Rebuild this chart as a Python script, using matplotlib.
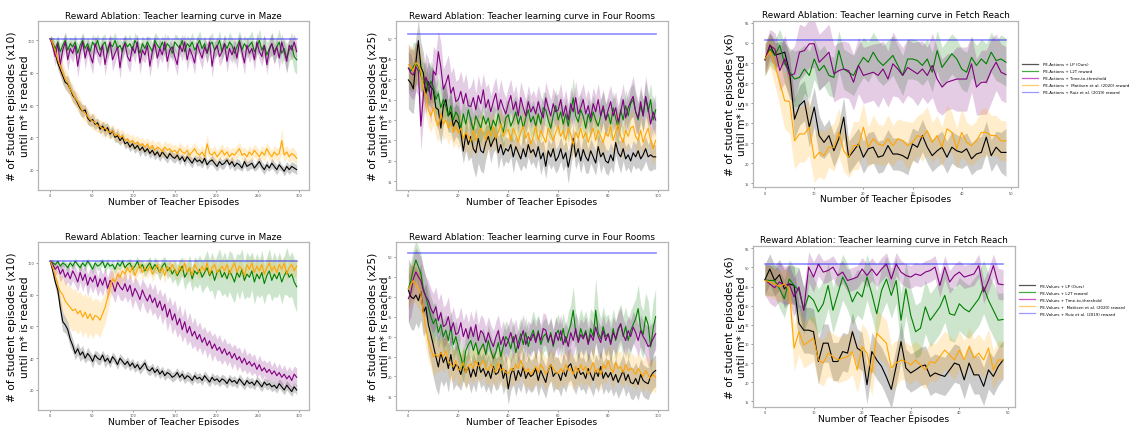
import numpy as np
import matplotlib
matplotlib.use("Agg")
import matplotlib.pyplot as plt
from matplotlib.lines import Line2D

# ---- x axes (teacher episodes) ----
maze_ep = np.arange(0, 300, 3)
rooms_ep = np.arange(0, 100)
fetch_ep = np.arange(0, 50)

# ---- Ruiz et al. reward: flat line ----
ruiz_maze = 101
ruiz_rooms = 51
ruiz_fetch = 50.8

# ================= MAZE, PE-Actions (top) =================
maze_a_lp = [101, 97, 92, 86, 82, 78, 74, 73, 70, 66, 64, 61, 58, 56, 57, 52, 50, 51, 48, 49,
             45, 47, 44, 46, 42, 44, 40, 41, 38, 40, 36, 37, 34, 36, 33, 35, 32, 34, 31, 33,
             30, 32, 29, 31, 28, 31, 29, 27, 30, 28, 27, 29, 26, 28, 25, 28, 26, 24, 27, 25,
             26, 24, 27, 23, 25, 26, 24, 22, 25, 23, 24, 26, 23, 25, 22, 24, 23, 21, 25, 22,
             23, 24, 21, 23, 25, 22, 20, 23, 21, 24, 22, 20, 23, 21, 19, 22, 20, 22, 21, 20]
maze_a_lp_sd = [1, 2, 3, 4, 4, 5, 4, 5, 4, 4, 4, 3, 4, 4, 3, 4, 3, 4, 3, 3,
                3, 3, 4, 3, 3, 3, 3, 4, 3, 3, 3, 3, 3, 3, 3, 3, 4, 3, 3, 3,
                3, 3, 3, 3, 3, 3, 3, 3, 3, 3, 3, 3, 3, 2, 3, 3, 3, 3, 2, 3,
                3, 3, 3, 3, 2, 3, 3, 3, 3, 3, 3, 2, 3, 3, 3, 3, 3, 2, 3, 3,
                3, 3, 2, 3, 3, 3, 3, 3, 2, 3, 3, 3, 3, 2, 3, 3, 3, 3, 3, 3]
maze_a_l2t = [101, 98, 95, 99, 93, 97, 100, 94, 98, 96, 99, 92, 97, 100, 95, 98, 93, 99, 96, 100,
              94, 97, 99, 92, 98, 96, 100, 95, 97, 93, 99, 96, 98, 94, 100, 97, 92, 98, 95, 99,
              96, 93, 100, 97, 95, 99, 94, 98, 96, 92, 99, 97, 95, 100, 93, 98, 96, 99, 94, 97,
              100, 95, 98, 92, 97, 99, 94, 96, 100, 93, 98, 95, 99, 97, 92, 96, 100, 94, 98, 95,
              97, 99, 93, 96, 100, 94, 97, 91, 95, 98, 93, 96, 99, 92, 95, 89, 94, 97, 90, 88]
maze_a_l2t_sd = [2, 4, 5, 4, 5, 4, 5, 6, 4, 5, 5, 6, 4, 5, 5, 4, 6, 5, 5, 4,
                 5, 6, 5, 4, 5, 6, 5, 5, 4, 6, 5, 5, 6, 4, 5, 5, 6, 5, 5, 4,
                 6, 5, 5, 6, 5, 4, 5, 6, 5, 5, 5, 6, 5, 4, 6, 5, 5, 6, 5, 5,
                 6, 5, 5, 6, 5, 6, 5, 5, 6, 5, 6, 5, 6, 5, 7, 5, 6, 6, 5, 6,
                 6, 7, 6, 5, 7, 6, 6, 8, 6, 7, 7, 6, 8, 7, 6, 9, 7, 8, 9, 9]
maze_a_ttt = [101, 96, 90, 98, 85, 94, 99, 88, 95, 92, 97, 84, 93, 99, 89, 96, 91, 86, 98, 93,
              90, 97, 85, 94, 99, 88, 92, 96, 83, 95, 98, 90, 87, 96, 92, 99, 86, 94, 91, 97,
              84, 93, 98, 89, 95, 91, 99, 87, 94, 96, 90, 85, 97, 93, 99, 88, 95, 91, 86, 98,
              93, 89, 96, 92, 99, 84, 94, 97, 90, 93, 98, 87, 95, 91, 96, 89, 99, 93, 86, 97,
              92, 95, 88, 99, 93, 90, 97, 85, 94, 98, 91, 96, 89, 99, 93, 87, 97, 94, 99, 93]
maze_a_ttt_sd = [2, 5, 6, 5, 7, 5, 6, 7, 5, 6, 5, 7, 6, 5, 7, 5, 6, 7, 5, 6,
                 6, 5, 7, 6, 5, 7, 6, 5, 7, 6, 5, 6, 7, 5, 6, 5, 7, 6, 5, 6,
                 7, 6, 5, 7, 6, 5, 6, 7, 5, 6, 6, 7, 5, 6, 5, 7, 6, 5, 7, 5,
                 6, 7, 5, 6, 5, 7, 6, 5, 6, 6, 5, 7, 6, 5, 6, 7, 5, 6, 7, 5,
                 6, 5, 7, 6, 5, 6, 7, 6, 5, 7, 6, 5, 7, 5, 6, 7, 5, 6, 5, 6]
maze_a_mat = [101, 98, 93, 88, 84, 80, 76, 74, 70, 67, 64, 62, 59, 56, 55, 53, 51, 50, 49, 47,
              47, 45, 46, 44, 43, 44, 41, 42, 40, 41, 38, 39, 37, 38, 36, 37, 35, 36, 34, 36,
              33, 35, 32, 34, 33, 31, 34, 32, 33, 31, 32, 30, 33, 31, 30, 32, 29, 31, 33, 30,
              29, 31, 28, 36, 30, 29, 31, 28, 30, 32, 29, 31, 28, 30, 29, 31, 33, 29, 30, 28,
              31, 29, 32, 30, 28, 31, 29, 33, 30, 28, 31, 29, 30, 38, 29, 31, 28, 30, 29, 27]
maze_a_mat_sd = [1, 3, 4, 5, 6, 6, 6, 6, 5, 6, 5, 6, 5, 5, 5, 5, 4, 5, 5, 4,
                 4, 5, 4, 4, 4, 4, 4, 4, 4, 4, 4, 4, 4, 4, 4, 4, 4, 4, 4, 4,
                 4, 4, 4, 4, 4, 4, 4, 4, 4, 4, 4, 4, 4, 4, 4, 4, 4, 4, 4, 4,
                 4, 4, 4, 6, 4, 4, 4, 4, 4, 4, 4, 4, 4, 4, 4, 4, 4, 4, 4, 4,
                 4, 4, 4, 4, 4, 4, 4, 4, 4, 4, 4, 4, 4, 8, 4, 4, 4, 4, 4, 4]

# ================= MAZE, PE-Values (bottom) =================
maze_v_lp = [101, 95, 88, 83, 72, 63, 61, 58, 52, 48, 43, 46, 42, 44, 40, 43, 41, 38, 42, 40,
             39, 42, 38, 40, 37, 41, 39, 36, 40, 38, 36, 38, 35, 37, 34, 36, 33, 35, 37, 33,
             32, 34, 31, 33, 30, 32, 29, 31, 30, 28, 29, 31, 28, 30, 27, 29, 28, 26, 29, 27,
             28, 26, 29, 27, 25, 28, 26, 27, 25, 27, 26, 24, 27, 25, 26, 24, 27, 25, 23, 26,
             24, 25, 23, 26, 24, 22, 25, 23, 24, 22, 23, 21, 24, 22, 20, 23, 21, 19, 22, 20]
maze_v_lp_sd = [1, 3, 4, 5, 6, 6, 5, 5, 5, 4, 4, 4, 4, 4, 3, 4, 3, 4, 3, 4,
                3, 3, 4, 3, 3, 3, 3, 3, 3, 3, 3, 3, 3, 3, 3, 3, 3, 3, 3, 3,
                3, 3, 3, 3, 3, 3, 3, 3, 3, 3, 3, 3, 3, 3, 3, 3, 3, 3, 3, 3,
                3, 3, 3, 3, 3, 3, 3, 3, 3, 3, 3, 3, 3, 3, 3, 3, 3, 3, 3, 3,
                3, 3, 3, 3, 3, 3, 3, 3, 3, 3, 3, 3, 3, 3, 3, 3, 3, 3, 3, 3]
maze_v_l2t = [101, 100, 99, 101, 98, 100, 99, 97, 100, 98, 101, 99, 97, 100, 98, 101, 99, 96, 100, 98,
              99, 101, 97, 100, 98, 99, 96, 100, 98, 101, 97, 99, 100, 96, 98, 101, 97, 99, 95, 98,
              100, 96, 99, 97, 94, 98, 100, 95, 97, 93, 96, 92, 95, 98, 91, 94, 97, 90, 95, 93,
              96, 91, 94, 97, 92, 95, 89, 94, 96, 91, 94, 90, 95, 92, 88, 94, 91, 96, 89, 93,
              91, 95, 88, 93, 90, 94, 87, 92, 95, 89, 93, 90, 94, 88, 92, 95, 91, 93, 88, 85]
maze_v_l2t_sd = [1, 1, 2, 1, 2, 2, 2, 3, 2, 2, 2, 2, 3, 2, 3, 2, 2, 3, 2, 3,
                 3, 2, 3, 3, 2, 3, 3, 3, 3, 2, 3, 3, 3, 4, 3, 3, 4, 3, 4, 4,
                 4, 4, 5, 4, 5, 5, 4, 5, 5, 6, 6, 7, 7, 6, 8, 7, 8, 8, 9, 9,
                 9, 10, 10, 11, 10, 12, 12, 11, 13, 12, 13, 12, 13, 14, 13, 12, 14, 13, 12, 14,
                 13, 12, 14, 13, 12, 14, 13, 12, 14, 13, 14, 12, 13, 14, 12, 15, 13, 14, 15, 16]
maze_v_ttt = [101, 99, 96, 98, 93, 96, 91, 94, 90, 95, 92, 88, 94, 89, 93, 86, 91, 88, 92, 85,
              90, 86, 91, 84, 89, 87, 82, 88, 85, 83, 87, 82, 86, 79, 84, 81, 77, 83, 79, 76,
              80, 75, 78, 72, 76, 70, 74, 66, 71, 64, 68, 61, 65, 58, 63, 56, 60, 54, 57, 52,
              55, 50, 53, 48, 51, 46, 49, 45, 47, 43, 46, 42, 44, 40, 43, 39, 41, 37, 40, 36,
              38, 35, 37, 33, 36, 32, 34, 31, 33, 30, 32, 29, 31, 28, 30, 27, 29, 26, 30, 28]
maze_v_ttt_sd = [1, 3, 4, 4, 5, 5, 5, 6, 5, 6, 6, 6, 6, 7, 6, 7, 6, 7, 7, 6,
                 7, 7, 6, 7, 7, 8, 7, 7, 8, 7, 8, 7, 8, 8, 7, 8, 8, 7, 8, 8,
                 8, 8, 9, 8, 8, 9, 8, 9, 8, 9, 9, 8, 9, 8, 9, 8, 9, 8, 9, 8,
                 8, 8, 7, 8, 7, 8, 7, 7, 8, 7, 7, 7, 6, 7, 6, 7, 6, 6, 7, 6,
                 6, 6, 6, 5, 6, 6, 5, 6, 6, 5, 6, 5, 6, 5, 6, 5, 6, 6, 5, 6]
maze_v_mat = [101, 97, 92, 86, 82, 80, 76, 74, 72, 70, 71, 68, 70, 66, 69, 65, 68, 64, 67, 66,
              64, 68, 72, 78, 85, 90, 88, 93, 91, 95, 93, 97, 94, 98, 92, 96, 99, 94, 97, 95,
              98, 93, 96, 99, 94, 97, 92, 98, 95, 99, 96, 93, 98, 95, 100, 94, 97, 92, 99, 96,
              94, 98, 95, 100, 93, 97, 99, 94, 96, 98, 95, 99, 93, 97, 100, 94, 98, 96, 92, 99,
              96, 100, 94, 98, 95, 99, 93, 97, 100, 95, 98, 94, 99, 96, 100, 93, 97, 99, 95, 98]
maze_v_mat_sd = [1, 4, 6, 8, 10, 11, 12, 12, 13, 13, 13, 13, 12, 13, 12, 13, 12, 12, 11, 11,
                 11, 10, 10, 9, 8, 7, 6, 6, 5, 5, 5, 4, 5, 4, 5, 4, 4, 5, 4, 5,
                 4, 5, 4, 4, 5, 4, 5, 4, 5, 4, 5, 4, 5, 4, 4, 5, 4, 5, 4, 5,
                 4, 5, 4, 4, 5, 4, 5, 4, 5, 4, 5, 4, 5, 4, 4, 5, 4, 5, 4, 5,
                 4, 5, 4, 5, 4, 5, 4, 5, 4, 5, 5, 4, 5, 4, 5, 4, 5, 4, 5, 5]

# ================= FOUR ROOMS, PE-Actions (top) =================
rooms_a_lp = [39.8, 39.0, 37.6, 44.0, 49.4, 43.0, 41.5, 36.5, 39.4, 38.0,
              37.4, 33.0, 32.5, 28.0, 33.5, 35.0, 31.0, 32.0, 28.5, 30.0,
              29.3, 27.0, 22.4, 26.5, 24.0, 26.0, 23.0, 22.0, 25.5, 22.5,
              22.0, 24.5, 26.0, 23.5, 25.0, 26.0, 22.0, 24.0, 21.5, 23.0,
              22.4, 24.0, 21.0, 23.5, 22.0, 20.5, 23.0, 21.0, 24.0, 22.0,
              22.8, 21.0, 23.5, 20.5, 22.0, 18.7, 22.5, 21.0, 23.0, 20.0,
              21.0, 23.0, 20.5, 22.0, 18.5, 21.5, 25.5, 21.0, 23.0, 20.0,
              22.8, 21.0, 20.0, 22.5, 21.0, 19.5, 23.5, 21.0, 22.0, 20.0,
              19.5, 21.5, 20.0, 24.5, 22.0, 21.0, 23.0, 20.5, 21.5, 20.0,
              22.0, 21.0, 22.5, 20.5, 21.5, 23.0, 21.0, 21.5, 21.0, 21.0]
rooms_a_lp_sd = [7, 7, 6, 6, 5, 6, 5, 5, 5, 5, 5, 4, 5, 4, 5, 4, 4, 5, 4, 4,
                 4, 4, 3, 4, 4, 5, 5, 6, 6, 5, 5, 4, 3, 4, 3, 3, 4, 3, 3, 3,
                 3, 3, 4, 3, 3, 3, 4, 3, 3, 3, 3, 3, 3, 4, 3, 3, 3, 3, 4, 3,
                 3, 3, 3, 3, 4, 3, 3, 3, 3, 3, 3, 4, 3, 3, 3, 3, 3, 4, 3, 3,
                 3, 3, 3, 3, 3, 4, 3, 3, 3, 3, 3, 3, 4, 3, 3, 3, 3, 4, 3, 3]
rooms_a_l2t = [42.7, 42.0, 43.0, 44.0, 43.0, 41.0, 39.0, 40.0, 37.0, 39.5,
               38.2, 35.0, 36.5, 33.0, 35.0, 33.3, 31.0, 33.5, 30.0, 32.0,
               30.9, 28.0, 31.5, 29.0, 32.5, 30.0, 27.5, 31.0, 29.5, 28.0,
               31.0, 29.0, 30.5, 27.5, 30.0, 28.5, 31.5, 29.0, 27.0, 30.5,
               31.3, 28.5, 30.0, 32.0, 29.0, 31.0, 28.0, 30.5, 32.5, 29.5,
               30.9, 28.5, 31.5, 29.0, 33.0, 32.5, 30.0, 28.0, 31.0, 33.5,
               30.0, 32.0, 29.0, 31.5, 28.5, 32.0, 35.4, 31.0, 29.5, 32.5,
               30.9, 28.0, 31.5, 29.5, 32.0, 30.0, 28.5, 31.0, 33.0, 30.0,
               31.5, 29.0, 33.0, 30.5, 28.0, 32.5, 30.0, 33.5, 31.0, 34.0,
               35.0, 32.0, 30.0, 33.5, 31.0, 35.5, 32.0, 35.0, 30.0, 32.5]
rooms_a_l2t_sd = [5, 5, 6, 5, 5, 4, 5, 4, 4, 5, 4, 4, 4, 5, 4, 4, 4, 4, 3, 4,
                  4, 4, 4, 4, 3, 4, 4, 4, 4, 4, 4, 3, 4, 4, 4, 4, 4, 4, 4, 4,
                  4, 4, 5, 4, 4, 4, 4, 4, 4, 4, 4, 4, 4, 4, 4, 4, 4, 3, 4, 4,
                  4, 4, 4, 4, 4, 4, 5, 4, 4, 4, 4, 4, 4, 4, 4, 4, 4, 4, 4, 4,
                  4, 4, 4, 4, 4, 4, 4, 4, 4, 4, 4, 4, 4, 4, 4, 4, 4, 4, 4, 4]
rooms_a_ttt = [42.7, 41.5, 41.0, 43.0, 42.0, 28.5, 36.0, 40.5, 39.0, 35.0,
               42.0, 41.0, 46.7, 43.0, 37.5, 39.0, 41.0, 36.5, 38.0, 34.5,
               35.0, 37.0, 34.0, 36.5, 33.5, 33.3, 35.5, 32.5, 36.0, 34.0,
               37.4, 33.0, 35.0, 32.0, 34.5, 36.5, 32.5, 35.0, 33.0, 31.5,
               34.0, 36.0, 32.5, 34.5, 31.0, 35.5, 33.0, 31.0, 34.5, 32.0,
               33.3, 31.5, 34.5, 32.0, 30.5, 35.4, 33.0, 31.0, 34.0, 32.0,
               32.5, 35.0, 31.0, 33.5, 30.0, 34.0, 32.0, 35.5, 31.5, 33.0,
               35.0, 31.5, 33.5, 30.5, 34.0, 32.0, 35.0, 31.0, 33.5, 30.0,
               32.5, 34.5, 31.0, 33.0, 29.5, 32.0, 35.0, 30.5, 33.0, 34.5,
               35.8, 32.0, 30.5, 34.5, 31.0, 35.8, 33.0, 29.0, 32.0, 30.0]
rooms_a_ttt_sd = [6, 6, 6, 6, 6, 6, 6, 6, 6, 6, 6, 6, 5, 6, 5, 5, 5, 5, 5, 5,
                  5, 5, 5, 5, 4, 5, 5, 4, 5, 4, 4, 5, 4, 4, 4, 4, 4, 5, 4, 4,
                  4, 4, 4, 4, 4, 4, 4, 4, 4, 4, 4, 4, 4, 4, 4, 4, 4, 4, 4, 4,
                  4, 4, 4, 4, 4, 4, 4, 4, 4, 4, 4, 4, 4, 4, 4, 4, 4, 4, 4, 4,
                  4, 4, 4, 4, 4, 4, 4, 4, 4, 4, 5, 5, 4, 4, 4, 5, 4, 4, 4, 4]
rooms_a_mat = [43.5, 43.0, 42.0, 44.0, 43.5, 42.0, 38.0, 36.0, 32.5, 31.0,
               33.0, 30.0, 28.5, 31.5, 29.0, 30.0, 28.0, 29.5, 27.0, 28.5,
               26.8, 28.0, 25.5, 27.0, 26.0, 24.8, 27.5, 25.0, 26.5, 28.0,
               26.8, 25.0, 27.5, 26.0, 28.5, 25.5, 27.0, 29.0, 26.0, 27.5,
               27.6, 25.0, 28.0, 26.5, 24.5, 27.0, 28.5, 25.5, 27.0, 24.0,
               26.0, 28.5, 25.0, 27.5, 26.0, 24.5, 28.0, 26.5, 25.0, 27.0,
               28.5, 26.0, 27.5, 25.0, 28.0, 26.5, 24.0, 27.0, 25.5, 28.0,
               25.5, 27.0, 24.5, 26.5, 28.0, 25.0, 27.5, 26.0, 24.5, 27.0,
               26.0, 28.5, 25.0, 27.0, 29.0, 26.0, 24.5, 27.5, 26.0, 28.0,
               28.5, 26.0, 25.0, 27.5, 24.5, 26.5, 28.0, 25.0, 23.0, 25.0]
rooms_a_mat_sd = [5, 5, 5, 5, 5, 5, 5, 5, 4, 4, 4, 4, 4, 4, 4, 4, 4, 4, 4, 4,
                  4, 4, 4, 4, 4, 4, 4, 4, 4, 4, 4, 4, 4, 4, 4, 4, 4, 4, 4, 4,
                  4, 4, 4, 4, 4, 4, 4, 4, 4, 4, 4, 4, 4, 4, 4, 4, 4, 4, 4, 4,
                  4, 4, 4, 4, 4, 4, 4, 4, 4, 4, 4, 4, 4, 4, 4, 4, 4, 4, 4, 4,
                  4, 4, 4, 4, 4, 4, 4, 4, 4, 4, 4, 4, 4, 4, 4, 4, 4, 4, 4, 4]

# ================= FOUR ROOMS, PE-Values (bottom) =================
rooms_v_lp = [41.6, 40.0, 39.5, 40.4, 39.0, 41.2, 36.0, 37.4, 33.0, 30.5,
              27.8, 25.0, 22.4, 26.0, 23.5, 24.9, 22.0, 25.5, 21.5, 23.0,
              22.4, 20.5, 23.0, 21.0, 22.5, 19.8, 22.0, 20.0, 23.5, 21.0,
              22.0, 20.0, 21.5, 19.5, 22.5, 20.5, 21.0, 23.0, 19.5, 21.5,
              16.9, 20.5, 22.0, 19.0, 21.5, 20.0, 22.5, 19.5, 21.0, 20.0,
              20.5, 22.0, 19.0, 21.5, 20.0, 18.5, 21.5, 23.0, 20.0, 21.0,
              20.7, 19.0, 21.5, 20.0, 22.5, 23.2, 21.0, 19.5, 22.0, 20.5,
              21.0, 19.5, 22.0, 20.5, 19.0, 21.5, 20.0, 22.5, 19.5, 21.0,
              19.8, 21.0, 19.0, 20.5, 18.5, 20.0, 21.5, 19.0, 20.5, 18.5,
              18.2, 19.5, 18.0, 20.5, 19.0, 18.5, 18.2, 20.0, 21.0, 21.5]
rooms_v_lp_sd = [8, 8, 8, 7, 7, 7, 6, 6, 7, 7, 8, 8, 7, 7, 6, 6, 6, 5, 5, 5,
                 5, 4, 4, 4, 4, 4, 4, 4, 4, 4, 4, 4, 4, 4, 4, 4, 4, 4, 4, 4,
                 4, 4, 4, 4, 4, 4, 4, 4, 4, 4, 4, 4, 4, 4, 4, 4, 4, 4, 4, 4,
                 4, 4, 4, 4, 4, 4, 4, 4, 4, 4, 4, 4, 4, 4, 4, 4, 4, 4, 4, 4,
                 4, 4, 4, 4, 4, 4, 4, 4, 4, 4, 4, 4, 4, 4, 4, 4, 4, 4, 4, 4]
rooms_v_l2t = [42.0, 44.0, 47.0, 49.2, 47.5, 45.8, 42.0, 40.0, 37.4, 35.0,
               33.2, 34.5, 31.0, 33.0, 30.0, 31.6, 29.0, 32.5, 28.0, 30.0,
               27.4, 25.0, 22.4, 26.5, 28.0, 29.0, 26.5, 28.5, 25.5, 27.0,
               28.2, 25.5, 29.0, 26.5, 24.5, 26.0, 28.5, 25.0, 27.5, 30.0,
               29.0, 27.0, 30.0, 26.0, 28.5, 30.7, 28.0, 31.0, 27.5, 30.0,
               31.6, 29.0, 31.5, 28.0, 30.0, 30.7, 28.5, 31.0, 27.5, 30.5,
               31.6, 29.0, 32.0, 28.5, 31.0, 33.0, 36.6, 31.0, 29.0, 32.0,
               29.8, 31.5, 28.5, 32.0, 30.0, 36.6, 31.0, 29.5, 32.5, 30.0,
               30.7, 28.5, 32.0, 29.0, 31.5, 33.2, 30.0, 32.5, 29.0, 31.5,
               33.0, 34.5, 37.0, 32.0, 30.5, 35.0, 33.0, 27.4, 32.0, 35.0]
rooms_v_l2t_sd = [5, 5, 5, 5, 5, 5, 5, 5, 5, 5, 5, 4, 4, 4, 4, 4, 4, 4, 4, 4,
                  4, 4, 4, 4, 4, 4, 4, 4, 4, 4, 4, 4, 4, 4, 4, 4, 4, 4, 4, 4,
                  4, 4, 4, 4, 4, 4, 4, 4, 4, 4, 5, 5, 4, 4, 4, 4, 4, 4, 4, 4,
                  4, 4, 4, 4, 5, 5, 6, 5, 5, 5, 5, 5, 5, 5, 6, 8, 6, 5, 5, 5,
                  5, 5, 5, 5, 5, 5, 5, 5, 5, 5, 5, 5, 6, 6, 6, 6, 6, 6, 7, 7]
rooms_v_ttt = [39.5, 41.0, 44.5, 46.2, 45.0, 44.0, 41.5, 40.0, 39.0, 37.0,
               35.8, 37.5, 34.0, 36.0, 32.5, 33.0, 35.0, 31.5, 33.5, 30.5,
               31.0, 33.5, 30.0, 32.0, 29.5, 32.4, 30.0, 33.0, 29.0, 31.5,
               30.7, 28.5, 31.0, 29.0, 27.5, 29.8, 31.5, 28.0, 30.0, 27.5,
               29.0, 31.0, 28.5, 30.5, 27.0, 29.5, 31.5, 28.0, 30.0, 29.0,
               30.7, 28.5, 31.0, 29.0, 32.0, 31.6, 29.0, 30.5, 28.0, 31.0,
               29.0, 31.5, 28.0, 30.0, 27.5, 31.0, 29.0, 32.0, 28.5, 30.5,
               29.4, 31.0, 28.0, 30.5, 29.0, 32.4, 30.0, 28.5, 31.5, 29.0,
               30.7, 28.0, 31.0, 29.5, 32.0, 33.2, 30.5, 29.0, 31.5, 30.0,
               32.4, 31.0, 29.0, 31.5, 30.0, 29.0, 27.5, 28.0, 29.5, 30.7]
rooms_v_ttt_sd = [6, 6, 6, 6, 6, 6, 6, 5, 5, 5, 5, 5, 5, 5, 5, 5, 5, 4, 4, 4,
                  4, 4, 4, 4, 4, 4, 4, 4, 4, 4, 4, 4, 4, 4, 4, 4, 4, 4, 4, 4,
                  4, 4, 4, 4, 4, 4, 4, 4, 4, 4, 4, 4, 4, 4, 4, 4, 4, 4, 4, 4,
                  4, 4, 4, 4, 4, 4, 4, 4, 4, 4, 4, 4, 4, 4, 4, 4, 4, 4, 4, 4,
                  4, 4, 4, 4, 4, 4, 4, 4, 4, 4, 4, 4, 4, 4, 4, 4, 5, 5, 4, 4]
rooms_v_mat = [42.0, 43.0, 44.0, 43.0, 42.0, 40.8, 36.0, 32.0, 29.0, 27.0,
               24.9, 25.5, 24.9, 26.0, 25.0, 26.5, 24.0, 23.0, 22.5, 24.0,
               21.5, 22.0, 23.5, 21.0, 22.5, 23.2, 22.0, 24.0, 22.5, 23.0,
               24.0, 22.0, 21.5, 23.0, 22.0, 21.0, 23.5, 21.5, 22.0, 21.0,
               20.7, 22.0, 21.5, 23.0, 22.0, 24.0, 22.5, 21.0, 22.0, 20.5,
               21.5, 22.5, 21.0, 23.0, 22.0, 20.5, 21.5, 23.0, 22.0, 21.0,
               20.7, 22.0, 21.0, 23.0, 21.5, 22.0, 20.5, 22.5, 21.0, 23.0,
               21.5, 22.5, 20.5, 22.0, 23.5, 21.0, 22.0, 20.5, 23.0, 22.0,
               24.0, 22.0, 21.0, 23.5, 22.0, 22.4, 21.0, 23.0, 21.5, 22.0,
               21.5, 20.5, 22.0, 21.0, 20.0, 21.5, 20.5, 19.5, 20.5, 19.8]
rooms_v_mat_sd = [5, 5, 5, 5, 5, 5, 5, 5, 5, 5, 5, 4, 4, 4, 4, 4, 4, 4, 4, 4,
                  4, 4, 4, 4, 4, 4, 4, 4, 4, 4, 4, 4, 4, 4, 4, 4, 4, 4, 4, 4,
                  4, 4, 4, 4, 4, 4, 4, 4, 4, 4, 4, 4, 4, 4, 4, 4, 4, 4, 4, 4,
                  4, 4, 4, 4, 4, 4, 4, 4, 4, 4, 4, 4, 4, 4, 4, 4, 4, 4, 4, 4,
                  4, 4, 4, 4, 4, 4, 4, 4, 4, 4, 4, 4, 4, 4, 4, 4, 4, 4, 4, 4]

# ================= FETCH REACH, PE-Actions (top) =================
fetch_a_lp = [45.8, 49.5, 47.0, 47.3, 47.7, 42.7, 31.0, 34.4, 35.6, 29.0,
              34.0, 26.9, 25.2, 26.9, 23.1, 26.1, 31.5, 21.5, 23.1, 24.8,
              21.5, 23.6, 24.0, 21.5, 21.9, 24.4, 22.3, 22.3, 21.9, 21.1,
              24.8, 24.0, 26.9, 24.0, 21.9, 23.1, 24.0, 21.5, 24.0, 23.1,
              22.7, 23.6, 21.1, 22.3, 22.7, 26.5, 21.9, 24.0, 22.7, 22.7]
fetch_a_lp_sd = [3, 3, 3, 3, 3, 4, 5, 5, 5, 5, 5, 5, 4, 4, 4, 4, 5, 4, 4, 4,
                 4, 4, 4, 4, 4, 4, 4, 4, 4, 4, 4, 4, 4, 4, 4, 4, 4, 4, 4, 4,
                 4, 4, 4, 4, 4, 4, 4, 4, 5, 6]
fetch_a_l2t = [45.8, 48.5, 46.9, 49.4, 44.8, 42.7, 41.0, 41.4, 43.5, 41.9,
               46.0, 43.1, 44.4, 41.9, 41.4, 48.1, 43.5, 42.7, 41.9, 44.4,
               46.4, 45.2, 47.7, 45.6, 44.4, 45.6, 46.9, 44.4, 41.9, 46.0,
               46.0, 45.6, 44.4, 46.0, 42.7, 48.1, 43.9, 45.6, 47.3, 46.0,
               43.5, 42.7, 46.4, 44.4, 46.0, 44.8, 47.7, 45.6, 46.0, 45.2]
fetch_a_l2t_sd = [4, 4, 4, 4, 5, 6, 7, 7, 6, 6, 5, 5, 5, 5, 5, 5, 5, 5, 5, 5,
                  5, 5, 5, 5, 5, 5, 5, 5, 5, 5, 5, 5, 5, 5, 5, 5, 5, 5, 5, 5,
                  5, 5, 5, 5, 5, 5, 5, 5, 6, 6]
fetch_a_ttt = [45.8, 49.4, 48.5, 43.1, 46.0, 41.9, 42.3, 47.7, 48.1, 49.8,
               49.8, 45.2, 46.4, 47.7, 42.3, 43.1, 43.5, 43.1, 40.2, 44.4,
               41.9, 42.3, 42.7, 41.9, 43.5, 41.0, 44.8, 43.5, 41.9, 43.9,
               43.1, 42.3, 43.5, 41.9, 44.4, 41.0, 39.0, 40.2, 40.6, 41.0,
               41.0, 41.0, 44.8, 39.0, 40.2, 40.2, 43.1, 45.2, 42.7, 42.1]
fetch_a_ttt_sd = [4, 4, 4, 5, 6, 6, 7, 7, 6, 6, 6, 7, 7, 7, 7, 7, 7, 7, 7, 7,
                  7, 7, 7, 8, 7, 7, 8, 7, 7, 7, 7, 8, 7, 7, 8, 8, 7, 7, 7, 8,
                  8, 8, 7, 7, 8, 8, 8, 7, 7, 7]
fetch_a_mat = [46.0, 47.9, 44.4, 40.2, 35.6, 35.4, 25.6, 27.3, 27.3, 29.0,
               21.2, 22.7, 21.9, 24.0, 24.0, 27.7, 23.1, 21.5, 24.4, 24.4,
               29.0, 24.0, 26.1, 24.8, 24.4, 26.1, 24.4, 26.1, 25.6, 24.4,
               25.2, 26.9, 26.5, 28.1, 25.2, 26.9, 24.0, 28.6, 27.7, 23.6,
               27.7, 25.2, 24.4, 25.6, 27.7, 27.7, 26.9, 26.9, 25.6, 25.6]
fetch_a_mat_sd = [4, 4, 5, 6, 7, 8, 7, 7, 7, 7, 6, 6, 6, 5, 6, 6, 5, 5, 6, 6,
                  6, 5, 6, 5, 5, 6, 5, 5, 5, 6, 5, 5, 6, 6, 5, 5, 5, 6, 5, 5,
                  6, 5, 5, 5, 6, 6, 5, 5, 5, 5]

# ================= FETCH REACH, PE-Values (bottom) =================
fetch_v_lp = [46.8, 49.6, 46.6, 48.1, 44.4, 45.7, 45.3, 35.4, 33.6, 33.6,
              33.2, 25.4, 30.2, 30.2, 25.4, 25.4, 28.0, 27.6, 33.2, 28.9,
              28.0, 19.3, 28.0, 25.8, 24.1, 21.3, 18.1, 24.1, 30.6, 23.7,
              22.4, 23.2, 24.1, 24.5, 21.5, 22.4, 21.9, 21.5, 23.2, 25.0,
              24.5, 20.6, 25.0, 21.9, 21.9, 18.9, 23.2, 21.5, 24.1, 25.8]
fetch_v_lp_sd = [4, 4, 4, 4, 5, 5, 5, 5, 6, 6, 6, 6, 5, 5, 5, 5, 5, 5, 5, 5,
                 5, 5, 5, 5, 5, 5, 5, 5, 5, 5, 5, 5, 5, 5, 5, 5, 5, 5, 5, 5,
                 5, 5, 5, 5, 5, 5, 5, 5, 5, 5]
fetch_v_l2t = [46.8, 46.6, 46.6, 44.4, 41.8, 47.0, 45.3, 44.0, 38.8, 42.7,
               41.4, 38.4, 40.5, 45.3, 38.8, 43.1, 47.5, 44.9, 41.0, 43.6,
               42.3, 47.5, 43.1, 37.9, 44.0, 47.0, 42.7, 46.6, 36.2, 44.4,
               37.5, 33.2, 34.1, 39.7, 36.2, 37.9, 39.7, 42.7, 37.9, 37.5,
               40.5, 39.2, 38.4, 40.1, 41.8, 44.9, 41.4, 38.8, 36.2, 36.4]
fetch_v_l2t_sd = [4, 4, 4, 5, 5, 5, 5, 6, 6, 6, 6, 6, 6, 6, 6, 6, 6, 6, 6, 6,
                  6, 6, 6, 6, 6, 6, 6, 6, 7, 7, 7, 7, 7, 7, 7, 7, 7, 7, 7, 7,
                  7, 7, 7, 7, 7, 7, 7, 7, 7, 7]
fetch_v_ttt = [46.8, 45.7, 44.7, 46.2, 45.3, 45.7, 42.3, 44.9, 38.8, 50.1,
               47.5, 50.9, 48.8, 49.2, 50.1, 47.9, 48.8, 46.6, 47.0, 47.5,
               49.6, 47.9, 49.6, 47.9, 49.6, 50.9, 47.0, 50.9, 48.8, 47.9,
               47.5, 48.3, 47.9, 48.8, 49.2, 50.1, 45.3, 50.1, 46.2, 47.9,
               48.8, 47.5, 47.9, 48.3, 50.5, 43.6, 46.6, 50.5, 45.7, 45.5]
fetch_v_ttt_sd = [4, 5, 5, 5, 5, 5, 5, 5, 6, 4, 4, 3, 3, 3, 3, 3, 3, 3, 3, 3,
                  3, 3, 3, 3, 3, 3, 3, 3, 3, 3, 3, 3, 3, 3, 3, 3, 3, 3, 3, 3,
                  3, 3, 3, 3, 3, 3, 3, 3, 4, 4]
fetch_v_mat = [46.6, 46.2, 45.7, 45.0, 45.7, 44.4, 28.9, 33.2, 29.7, 30.6,
               31.5, 25.8, 25.0, 27.6, 26.7, 25.8, 26.3, 26.7, 28.0, 23.2,
               29.3, 27.6, 22.4, 32.8, 31.5, 30.2, 23.7, 25.0, 25.8, 25.4,
               24.5, 25.8, 24.5, 23.2, 25.4, 25.0, 26.7, 28.4, 27.1, 25.8,
               28.4, 25.8, 29.3, 26.3, 27.6, 25.8, 28.9, 23.2, 25.8, 25.8]
fetch_v_mat_sd = [4, 4, 4, 4, 4, 4, 6, 6, 6, 6, 6, 6, 6, 6, 6, 6, 6, 6, 6, 6,
                  6, 6, 6, 6, 6, 6, 6, 6, 5, 5, 5, 5, 5, 5, 5, 5, 5, 5, 5, 5,
                  5, 5, 5, 5, 5, 5, 5, 5, 5, 5]

colors = ["black", "green", "purple", "orange"]
legend_colors = ["#555555", "#44aa44", "#cc55cc", "#ffcc66", "#9999ff"]
legend_a = ["PE-Actions + LP (Ours)", "PE-Actions + L2T reward", "PE-Actions + Time-to-threshold",
            "PE-Actions +  Matiisen et al. (2020) reward", "PE-Actions + Ruiz et al. (2019) reward"]
legend_v = ["PE-Values + LP (Ours)", "PE-Values + L2T reward", "PE-Values + Time-to-threshold",
            "PE-Values +  Matiisen et al. (2020) reward", "PE-Values + Ruiz et al. (2019) reward"]


def draw_panel(ax, ep, curves, ruiz, env, scale, ylim, yticks, xticks):
    for (m, s), c in zip(curves, colors):
        m = np.array(m, dtype=float)
        s = np.array(s, dtype=float)
        ax.fill_between(ep, m - s, m + s, color=c, alpha=0.2, lw=0)
        ax.plot(ep, m, color=c, lw=0.8)
    ax.plot(ep[[0, -1]], [ruiz, ruiz], color="blue", alpha=0.45, lw=1.2)
    ax.set_xlim(ep[0] - 0.05 * ep[-1], ep[-1] * 1.05)
    ax.set_ylim(*ylim)
    ax.set_yticks(yticks)
    ax.set_xticks(xticks)
    ax.tick_params(labelsize=2.5, length=1.5, width=0.4, pad=1, colors="#444444")
    for sp in ax.spines.values():
        sp.set_color("#b5b5b5")
        sp.set_linewidth(0.9)
    ax.set_title("Reward Ablation: Teacher learning curve in " + env, fontsize=6.4, pad=2.5)
    ax.set_xlabel("Number of Teacher Episodes", fontsize=6.6, labelpad=-0.5)
    ax.set_ylabel("# of student episodes (" + scale + ")\nuntil m* is reached", fontsize=7.7,
                  labelpad=-1.5, linespacing=1.3)


fig = plt.figure(figsize=(11.34, 4.27), dpi=100)
W, H = 1134, 427


def box(x0, x1, y0, y1):
    return [x0 / W, (H - y1) / H, (x1 - x0) / W, (y1 - y0) / H]


ax1 = fig.add_axes(box(38, 309, 22, 191))
ax2 = fig.add_axes(box(396, 668, 22, 191))
ax3 = fig.add_axes(box(753, 1018, 21.5, 188.3))
ax4 = fig.add_axes(box(38, 309, 243, 411))
ax5 = fig.add_axes(box(396, 668, 243, 411))
ax6 = fig.add_axes(box(753, 1015, 246.7, 408))

maze_yt = [20, 40, 60, 80, 100]
rooms_yt = [15, 20, 25, 30, 35, 40, 45, 50]
fetch_yt = [15, 20, 25, 30, 35, 40, 45, 50, 55]

draw_panel(ax1, maze_ep, [(maze_a_lp, maze_a_lp_sd), (maze_a_l2t, maze_a_l2t_sd),
                          (maze_a_ttt, maze_a_ttt_sd), (maze_a_mat, maze_a_mat_sd)],
           ruiz_maze, "Maze", "x10", (7.4, 112), maze_yt, range(0, 301, 50))
draw_panel(ax2, rooms_ep, [(rooms_a_lp, rooms_a_lp_sd), (rooms_a_l2t, rooms_a_l2t_sd),
                           (rooms_a_ttt, rooms_a_ttt_sd), (rooms_a_mat, rooms_a_mat_sd)],
           ruiz_rooms, "Four Rooms", "x25", (12.9, 54.2), rooms_yt, range(0, 101, 20))
draw_panel(ax3, fetch_ep, [(fetch_a_lp, fetch_a_lp_sd), (fetch_a_l2t, fetch_a_l2t_sd),
                           (fetch_a_ttt, fetch_a_ttt_sd), (fetch_a_mat, fetch_a_mat_sd)],
           ruiz_fetch, "Fetch Reach", "x6", (14.0, 55.6), fetch_yt, range(0, 51, 10))
draw_panel(ax4, maze_ep, [(maze_v_lp, maze_v_lp_sd), (maze_v_l2t, maze_v_l2t_sd),
                          (maze_v_ttt, maze_v_ttt_sd), (maze_v_mat, maze_v_mat_sd)],
           ruiz_maze, "Maze", "x10", (7.4, 113.2), maze_yt, range(0, 301, 50))
draw_panel(ax5, rooms_ep, [(rooms_v_lp, rooms_v_lp_sd), (rooms_v_l2t, rooms_v_l2t_sd),
                           (rooms_v_ttt, rooms_v_ttt_sd), (rooms_v_mat, rooms_v_mat_sd)],
           ruiz_rooms, "Four Rooms", "x25", (11.6, 53.7), rooms_yt, range(0, 101, 20))
draw_panel(ax6, fetch_ep, [(fetch_v_lp, fetch_v_lp_sd), (fetch_v_l2t, fetch_v_l2t_sd),
                           (fetch_v_ttt, fetch_v_ttt_sd), (fetch_v_mat, fetch_v_mat_sd)],
           ruiz_fetch, "Fetch Reach", "x6", (13.5, 55.7), fetch_yt, range(0, 51, 10))

# legends next to the Fetch Reach panels
for ax, labels, yc in [(ax3, legend_a, 0.655), (ax6, legend_v, 0.665)]:
    handles = [Line2D([0], [0], color=c, lw=0.9) for c in legend_colors]
    ax.legend(handles, labels, loc="center left", bbox_to_anchor=(1.0, yc), fontsize=2.9,
              frameon=False, handlelength=4, labelspacing=0.75, handletextpad=1.2)

fig.savefig("out.png", dpi=100)
